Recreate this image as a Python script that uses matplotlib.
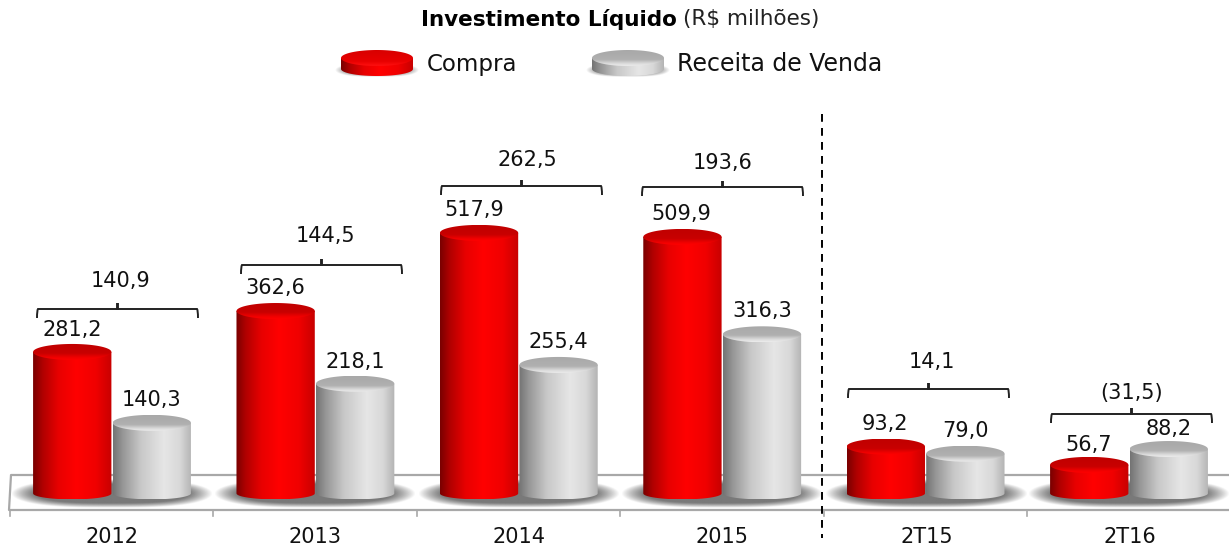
import numpy as np
import matplotlib
matplotlib.use("Agg")
import matplotlib.pyplot as plt
from matplotlib.colors import LinearSegmentedColormap
from matplotlib.patches import PathPatch
from matplotlib.path import Path

categories = ["2012", "2013", "2014", "2015", "2T15", "2T16"]
compra = [281.2, 362.6, 517.9, 509.9, 93.2, 56.7]
receita = [140.3, 218.1, 255.4, 316.3, 79.0, 88.2]
liquido = [140.9, 144.5, 262.5, 193.6, 14.1, -31.5]

# layout in pixels of the picture
W, H = 1229, 551
X0, X_STEP = 112, 203.4
Y0, Y_SCALE = 493.4, 0.503
BAR_W = 0.385
TOP_R = 8 / Y_SCALE
BASE_R = 6 / Y_SCALE
bracket_x = [37, 241, 441, 642, 848, 1051]
bracket_y = [309, 265, 186, 187, 389, 414]
net_y = [281, 236, 160, 163, 362, 393]
net_x = [121, 325, 527, 723, 932, 1132]
# small label shifts, in pixels (right, up)
red_nudge = [(0, -1), (0, 0), (-5, 0), (-1, 0), (-1, 0), (-1, -3)]
grey_nudge = [(0, 0), (0, -1), (0, 0), (0, 0), (0, 0), (0, -3)]

red_side = LinearSegmentedColormap.from_list("rs", [(0, "#7a0000"), (.12, "#b00000"), (.32, "#e80000"),
                                                    (.55, "#ff0000"), (.8, "#f00000"), (1, "#c80000")])
red_top = LinearSegmentedColormap.from_list("rt", [(0, "#c00000"), (.6, "#c80000"), (.85, "#f00000"), (1, "#ff0000")])
red_disc = LinearSegmentedColormap.from_list("rd", [(0, "#d80000"), (.7, "#e80000"), (1, "#ff1010")])
grey_side = LinearSegmentedColormap.from_list("gs", [(0, "#747474"), (.12, "#969696"), (.35, "#c8c8c8"),
                                                     (.65, "#e6e6e6"), (.85, "#d8d8d8"), (1, "#b4b4b4")])
grey_top = LinearSegmentedColormap.from_list("gt", [(0, "#a8a8a8"), (.6, "#b0b0b0"), (.85, "#dcdcdc"), (1, "#ececec")])
shadow = LinearSegmentedColormap.from_list("sh", ["#727272", "#727272"])


def gradient(ax, path, extent, cmap, vertical=False, zorder=3):
    g = np.linspace(0, 1, 128)
    g = g[:, None] if vertical else g[None, :]
    im = ax.imshow(g, extent=extent, cmap=cmap, aspect="auto", origin="upper", zorder=zorder, vmin=0, vmax=1)
    im.set_clip_path(PathPatch(path, transform=ax.transData))


def ellipse_path(cx, cy, rx, ry):
    t = np.linspace(0, 2 * np.pi, 80)
    return Path(np.column_stack([cx + rx * np.cos(t), cy + ry * np.sin(t)]))


def cylinder(ax, cx, top, rx, ry_top, ry_base, side, cap, base=0, zorder=3):
    t = np.linspace(np.pi, 2 * np.pi, 40)
    low = np.column_stack([cx + rx * np.cos(t), base + ry_base * np.sin(t)])
    body = np.vstack([[cx - rx, top], low, [cx + rx, top], [cx - rx, top]])
    gradient(ax, Path(body), (cx - rx, cx + rx, base - ry_base, top), side, zorder=zorder)
    gradient(ax, ellipse_path(cx, top, rx, ry_top), (cx - rx, cx + rx, top - ry_top, top + ry_top), cap,
             vertical=True, zorder=zorder + 0.1)


def soft_shadow(ax, cx, cy, rx, ry, strength=0.95):
    yy, xx = np.mgrid[-1:1:60j, -1:1:200j]
    d = np.clip(1 - (np.abs(xx) ** 3 + np.abs(yy) ** 2), 0, 1)
    ax.imshow(np.ones_like(d), alpha=np.clip(d * 1.8, 0, 1) * strength, cmap=shadow, aspect="auto",
              extent=(cx - rx, cx + rx, cy - ry, cy + ry), zorder=2)


fig = plt.figure(figsize=(W / 100, H / 100), dpi=100)
plt.rcParams["font.family"] = "DejaVu Sans"

# decoration layer in picture pixels
pax = fig.add_axes([0, 0, 1, 1], zorder=1)
ax = fig.add_axes([0, 0, 1, 1], zorder=2)
ax.patch.set_alpha(0)

floor = "#a8a8a8"
pax.plot([W, 11, 9, W], [475, 475, 510, 510], color=floor, lw=1.6, zorder=1)
for i in range(6):
    tx = 10 + X_STEP * i
    pax.plot([tx, tx], [510, 516], color=floor, lw=1.2, zorder=1)
    pax.text(X0 + X_STEP * i + (1 if i > 3 else 0), 537, categories[i], ha="center", va="center", fontsize=15, color="#111111")

pax.plot([822, 822], [114, 538], color="black", lw=1.4, ls=(0, (4, 3.2)), zorder=5)

# title, bold part and plain part
pax.text(677, 19, "Investimento Líquido", ha="right", va="center", fontsize=15.5, fontweight="bold")
pax.text(683, 19, "(R$ milhões)", ha="left", va="center", fontsize=15.5, color="#222222")

# legend
soft_shadow(pax, 377, 70, 42, 7, 0.6)
soft_shadow(pax, 628, 70, 42, 7, 0.6)
cylinder(pax, 377, 58, 36, -8, -7, red_side, red_disc, base=69)
cylinder(pax, 628, 58, 36, -8, -7, grey_side, grey_top, base=69)
pax.text(427, 64, "Compra", ha="left", va="center", fontsize=16.5, color="#111111")
pax.text(677, 64, "Receita de Venda", ha="left", va="center", fontsize=17, color="#111111")

# net brackets
for bx, by, nx, ny, v in zip(bracket_x, bracket_y, net_x, net_y, liquido):
    mid = bx + 80.5
    verts = [(bx, by + 9), (bx, by + 1), (bx + 1, by), (bx + 6, by), (mid - 1, by), (mid, by), (mid, by - 6),
             (mid, by), (mid + 1, by), (bx + 155, by), (bx + 160, by), (bx + 161, by + 1), (bx + 161, by + 9)]
    codes = [Path.MOVETO, Path.CURVE3, Path.CURVE3, Path.LINETO, Path.CURVE3, Path.CURVE3, Path.LINETO,
             Path.LINETO, Path.CURVE3, Path.CURVE3, Path.LINETO, Path.CURVE3, Path.CURVE3]
    pax.add_patch(PathPatch(Path(verts, codes), fc="none", ec="#222222", lw=1.4))
    s = f"{abs(v):.1f}".replace(".", ",")
    pax.text(nx, ny, f"({s})" if v < 0 else s, ha="center", va="center", fontsize=15, color="#111111")

pax.set_xlim(0, W)
pax.set_ylim(H, 0)
pax.axis("off")

# bars
x = np.arange(len(categories))
off = BAR_W / 2 + 0.003
for i in x:
    soft_shadow(ax, i, -1 / Y_SCALE, 101 / X_STEP, 14 / Y_SCALE)
for i in x:
    cylinder(ax, i - off, compra[i], BAR_W / 2, TOP_R, BASE_R, red_side, red_top)
    cylinder(ax, i + off, receita[i], BAR_W / 2, TOP_R, BASE_R, grey_side, grey_top)
    labels = ((i - off, compra[i], red_nudge[i]), (i + off, receita[i], grey_nudge[i]))
    for cx, v, (dx, dy) in labels:
        ax.annotate(f"{v:.1f}".replace(".", ","), (cx, v + TOP_R), xytext=(dx * 0.72, (15 + dy) * 0.72),
                    textcoords="offset points", ha="center", va="center", fontsize=15, color="#111111", zorder=6)

ax.set_xlim(-X0 / X_STEP, (W - X0) / X_STEP)
ax.set_ylim((Y0 - H) / Y_SCALE, Y0 / Y_SCALE)
ax.axis("off")

fig.savefig("out.png", dpi=100)
